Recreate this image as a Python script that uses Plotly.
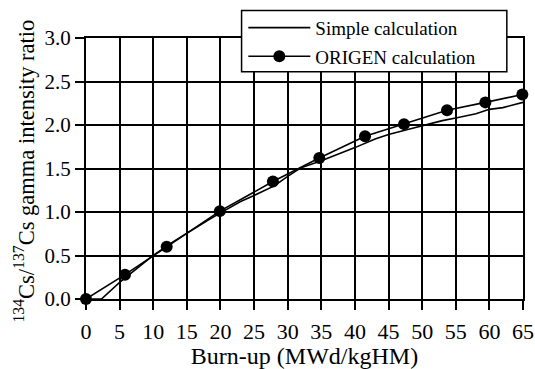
import plotly.graph_objects as go

# Simple calculation (continuous curve)
simple_x = [0, 2.3, 5, 8, 10, 13, 15, 18, 20, 23, 25, 28, 30, 32, 35, 38, 40, 43, 45, 48, 50, 53, 55, 58, 60, 62, 65]
simple_y = [0, 0, 0.19, 0.38, 0.50, 0.66, 0.76, 0.90, 0.99, 1.12, 1.19, 1.30, 1.41, 1.51, 1.59, 1.68, 1.74, 1.84, 1.89, 1.95, 1.99, 2.05, 2.08, 2.13, 2.18, 2.20, 2.26]

# ORIGEN calculation (points)
origen_x = [0, 5.8, 12.0, 19.9, 27.8, 34.7, 41.5, 47.3, 53.7, 59.4, 64.9]
origen_y = [0, 0.28, 0.60, 1.01, 1.35, 1.62, 1.87, 2.01, 2.17, 2.26, 2.35]

x_ticks = list(range(0, 70, 5))
y_ticks = [0.0, 0.5, 1.0, 1.5, 2.0, 2.5, 3.0]

FONT = "Liberation Serif"

fig = go.Figure()
fig.add_trace(go.Scatter(
    x=simple_x, y=simple_y, mode="lines", name="Simple calculation",
    legendgroup="a",
    line=dict(color="black", width=1.6), cliponaxis=False))
fig.add_trace(go.Scatter(
    x=origen_x, y=origen_y, mode="lines+markers", name="ORIGEN calculation",
    legendgroup="b",
    line=dict(color="black", width=1.6),
    marker=dict(color="black", size=12, symbol="circle"), cliponaxis=False))

axis_common = dict(
    showline=True, linecolor="black", linewidth=2, mirror=True,
    showgrid=True, gridcolor="black", gridwidth=1.8,
    ticks="outside", ticklen=9, tickwidth=1.8, tickcolor="black",
    zeroline=False, automargin=False,
)

# legend frame (paper coordinates)
fig.add_shape(type="rect", xref="paper", yref="paper",
              x0=0.356, x1=0.963, y0=0.871, y1=1.105,
              fillcolor="white", line=dict(color="black", width=1.5), layer="above")

# y-axis title as rotated annotation
fig.add_annotation(
    text="<sup>134</sup>Cs/<sup>137</sup>Cs gamma intensity ratio",
    xref="paper", yref="paper", x=-0.142, y=0.492,
    xanchor="center", yanchor="middle", textangle=-90, showarrow=False,
    font=dict(family=FONT, size=22.5, color="black"),
)

fig.update_layout(
    width=535, height=369,
    margin=dict(l=86, r=12, t=38, b=70, autoexpand=False),
    paper_bgcolor="white", plot_bgcolor="white",
    font=dict(family=FONT, color="black"),
    showlegend=True,
    legend=dict(
        x=0.36, y=1.112, xanchor="left", yanchor="top",
        bgcolor="rgba(0,0,0,0)", borderwidth=0,
        font=dict(family=FONT, size=19, color="black"),
        traceorder="grouped", tracegroupgap=1, itemwidth=62,
    ),
    xaxis=dict(
        range=[0, 65], tickvals=x_ticks, ticktext=[str(v) for v in x_ticks],
        tickfont=dict(family=FONT, size=22, color="black"),
        ticklabelstandoff=3,
        title=dict(text="Burn-up (MWd/kgHM)", font=dict(family=FONT, size=24, color="black")),
        **axis_common,
    ),
    yaxis=dict(
        range=[0, 3], tickvals=y_ticks, ticktext=[f"{v:.1f}" for v in y_ticks],
        tickfont=dict(family=FONT, size=21, color="black"),
        **axis_common,
    ),
)

fig.write_html("out.html")
